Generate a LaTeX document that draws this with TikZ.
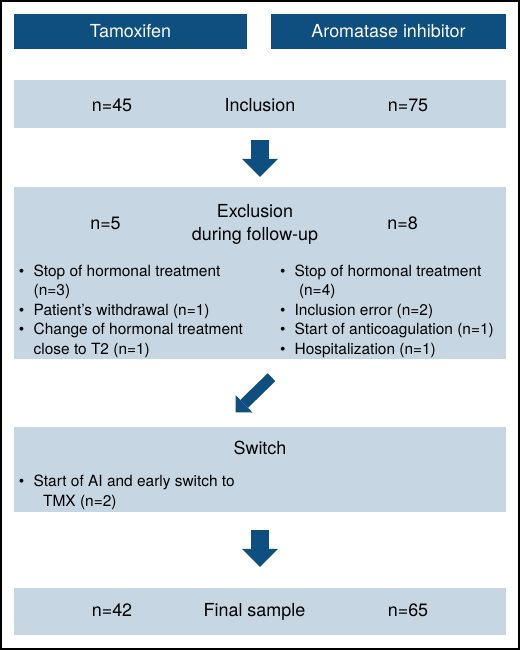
\documentclass[tikz,border=0pt]{standalone}
\usepackage{fontspec}
\setmainfont{TeX Gyre Heros}
\usetikzlibrary{arrows.meta}
\definecolor{hdr}{HTML}{0F4F80}
\definecolor{lbox}{HTML}{C6D6E3}
\begin{document}
\begin{tikzpicture}[x=1bp,y=-1bp,
  hdrbox/.style={fill=hdr, text=white, minimum height=35bp, inner sep=0pt, font=\fontsize{18}{20}\selectfont},
  panel/.style={fill=lbox, minimum width=492bp, inner sep=0pt},
  ttl/.style={font=\fontsize{18}{20}\selectfont, inner sep=0pt, anchor=base},
  itm/.style={font=\fontsize{15.5}{19}\selectfont, inner sep=0pt, anchor=base west},
  bul/.style={font=\fontsize{15.5}{19}\selectfont, inner sep=0pt, anchor=base},
  bigarrow/.style={draw=hdr, line width=18bp, -{Triangle[width=36bp,length=18bp,line width=0pt]}},
  smallarrow/.style={draw=hdr, line width=11bp, -{Triangle[width=24bp,length=12bp,line width=0pt]}}
]
\useasboundingbox (0,0) rectangle (520,650);
\node[draw=black, line width=2.5bp, minimum width=517.5bp, minimum height=647.5bp, inner sep=0pt] (frame) at (260,325) {};

% headers
\node[hdrbox, minimum width=233bp] (tam) at (130.5,31.5) {Tamoxifen};
\node[hdrbox, minimum width=235bp] (aro) at (388.5,31.5) {Aromatase inhibitor};

% inclusion
\node[panel, minimum height=48bp] (inc) at (260,104) {};
\node[ttl] (incl) at (260,111.7) {Inclusion};
\node[ttl] (n45) at (112,111.7) {n=45};
\node[ttl] (n75) at (408,111.7) {n=75};

% exclusion
\node[panel, minimum height=172bp] (exc) at (260,273) {};
\node[ttl] (ex1) at (255,217.3) {Exclusion};
\node[ttl] (ex2) at (255,240.3) {during follow-up};
\node[ttl] (n5) at (105.5,229.3) {n=5};
\node[ttl] (n8) at (402.7,229.3) {n=8};

\node[bul] (lb1) at (21.7,276) {•};
\node[itm] (l1a) at (33.5,276) {Stop of hormonal treatment};
\node[itm] (l1b) at (33.5,295.5) {(n=3)};
\node[bul] (lb2) at (21.7,315) {•};
\node[itm] (l2) at (33.5,315) {Patient’s withdrawal (n=1)};
\node[bul] (lb3) at (21.7,334.5) {•};
\node[itm] (l3a) at (33.5,334.5) {Change of hormonal treatment};
\node[itm] (l3b) at (33.5,354) {close to T2 (n=1)};

\node[bul] (rb1) at (282.7,276) {•};
\node[itm] (r1a) at (294.5,276) {Stop of hormonal treatment};
\node[itm] (r1b) at (298.8,295.5) {(n=4)};
\node[bul] (rb2) at (282.7,315) {•};
\node[itm] (r2) at (294.5,315) {Inclusion error (n=2)};
\node[bul] (rb3) at (282.7,334.5) {•};
\node[itm] (r3) at (294.5,334.5) {Start of anticoagulation (n=1)};
\node[bul] (rb4) at (282.7,354) {•};
\node[itm] (r4) at (294.5,354) {Hospitalization (n=1)};

% switch
\node[panel, minimum height=85bp] (sw) at (260,469.5) {};
\node[ttl] (swt) at (260,454) {Switch};
\node[bul] (sb1) at (21.7,486.7) {•};
\node[itm] (s1a) at (33.5,486.7) {Start of AI and early switch to};
\node[itm] (s1b) at (43,506) {TMX (n=2)};

% final
\node[panel, minimum height=47bp] (fin) at (260,611.5) {};
\node[ttl] (fint) at (254.5,616.7) {Final sample};
\node[ttl] (n42) at (112,616.7) {n=42};
\node[ttl] (n65) at (408,616.7) {n=65};

% arrows
\draw[bigarrow] ([yshift=-12bp]inc.south) -- ([yshift=10bp]exc.north);
\draw[smallarrow] ([xshift=11.5bp,yshift=-18bp]exc.south) -- ([xshift=-24.5bp,yshift=14.5bp]sw.north);
\draw[bigarrow] ([yshift=-18bp]sw.south) -- ([yshift=21bp]fin.north);
\end{tikzpicture}
\end{document}
